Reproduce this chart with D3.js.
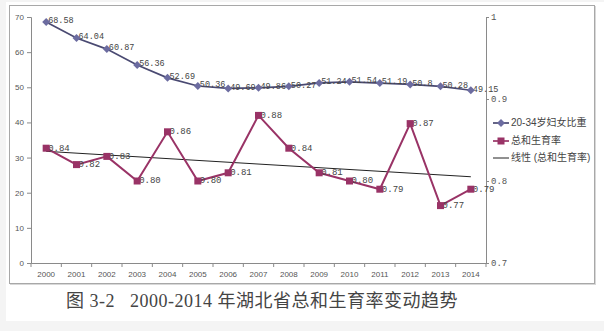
<!DOCTYPE html>
<html><head><meta charset="utf-8">
<script src="https://cdn.jsdelivr.net/npm/d3@7"></script>
<style>html,body{margin:0;padding:0;background:#fff;}svg{display:block;}</style>
</head><body>
<script>
const years = ["2000","2001","2002","2003","2004","2005","2006","2007","2008","2009","2010","2011","2012","2013","2014"];
const womenShare = [68.58,64.04,60.87,56.36,52.69,50.36,49.69,49.86,50.27,51.24,51.54,51.19,50.8,50.28,49.15];
const tfr = [0.84,0.82,0.83,0.80,0.86,0.80,0.81,0.88,0.84,0.81,0.80,0.79,0.87,0.77,0.79];
const tfrLabels = ["0.84","0.82","0.83","0.80","0.86","0.80","0.81","0.88","0.84","0.81","0.80","0.79","0.87","0.77","0.79"];
const leftTicks = [0,10,20,30,40,50,60,70];
const rightTicks = [0.7,0.8,0.9,1];
const rightTickLabels = ["0.7","0.8","0.9","1"];
const seriesNames = ["20-34岁妇女比重","总和生育率","线性 (总和生育率)"];
const title = "图 3-2\u00a0\u00a0\u00a02000-2014 年湖北省总和生育率变动趋势";

const W = 604, H = 331;
const svg = d3.select("body").append("svg").attr("width", W).attr("height", H);
svg.append("rect").attr("width", W).attr("height", H).attr("fill", "#f4f4f4");
svg.append("rect").attr("x", 6).attr("y", 2).attr("width", W - 6).attr("height", 319).attr("fill", "#fff");
// frame
svg.append("rect").attr("x", 10.5).attr("y", 6.5).attr("width", 585).attr("height", 278).attr("fill", "none").attr("stroke", "#d8d8d8");
svg.append("rect").attr("x", 9.5).attr("y", 5.5).attr("width", 585).attr("height", 278).attr("fill", "#fff").attr("stroke", "#a8a8a8");

const x = d3.scaleBand().domain(years).range([31, 486]);
const cx = d => x(d) + x.bandwidth() / 2;
const yL = d3.scaleLinear().domain([0, 70]).range([263, 17]);
const yR = d3.scaleLinear().domain([0.7, 1.0]).range([263, 17]);

const axisColor = "#8a8a8a";
const tickFont = "'Liberation Sans', Arial, sans-serif";

const gL = svg.append("g").attr("transform", "translate(31,0)")
  .call(d3.axisLeft(yL).tickValues(leftTicks).tickSize(4).tickPadding(3));
const gR = svg.append("g").attr("transform", "translate(486,0)")
  .call(d3.axisRight(yR).tickValues(rightTicks).tickSize(3).tickPadding(2)
    .tickFormat((d, i) => rightTickLabels[i]));
const gB = svg.append("g").attr("transform", "translate(0,263)")
  .call(d3.axisBottom(x).tickSize(0).tickPadding(8));
[gL, gR, gB].forEach(g => {
  g.select(".domain").attr("stroke", axisColor);
  g.selectAll(".tick line").attr("stroke", axisColor);
  g.selectAll("text").attr("fill", "#555").style("font-family", tickFont).style("font-size", "8px");
});
gR.selectAll("text").style("font-family", "'Liberation Mono', monospace").style("font-size", "9px");
const bounds = years.map(d => x(d)).concat([x.range()[1]]);
svg.append("g").selectAll("line").data(bounds).join("line")
  .attr("x1", d => d).attr("x2", d => d).attr("y1", 263).attr("y2", 267)
  .attr("stroke", axisColor);

// trend line (least squares fit of TFR)
const n = tfr.length;
const mx = d3.mean(tfr, (d, i) => i), my = d3.mean(tfr);
const slope = d3.sum(tfr, (d, i) => (i - mx) * (d - my)) / d3.sum(tfr, (d, i) => (i - mx) ** 2);
const fit = i => my + slope * (i - mx);
svg.append("line")
  .attr("x1", cx(years[0])).attr("y1", yR(fit(0)))
  .attr("x2", cx(years[n - 1])).attr("y2", yR(fit(n - 1)))
  .attr("stroke", "#222").attr("stroke-width", 1);

const c1 = "#4a4a72", m1 = "#6c6ca0";
svg.append("path").datum(womenShare)
  .attr("d", d3.line().x((d, i) => cx(years[i])).y(d => yL(d)))
  .attr("fill", "none").attr("stroke", c1).attr("stroke-width", 1.7);
const c2 = "#993366";
svg.append("path").datum(tfr)
  .attr("d", d3.line().x((d, i) => cx(years[i])).y(d => yR(d)))
  .attr("fill", "none").attr("stroke", c2).attr("stroke-width", 2);

const labFont = "'Liberation Mono', 'DejaVu Sans Mono', monospace";
svg.append("g").selectAll("text").data(womenShare).join("text")
  .attr("x", (d, i) => cx(years[i]) + 2).attr("y", d => yL(d) - 1)
  .attr("dominant-baseline", "middle")
  .style("font-family", labFont).style("font-size", "8.5px").attr("fill", "#444")
  .text(d => String(d));
svg.append("g").selectAll("text").data(tfr).join("text")
  .attr("x", (d, i) => cx(years[i]) + 2).attr("y", d => yR(d))
  .attr("dominant-baseline", "middle")
  .style("font-family", labFont).style("font-size", "9px").attr("fill", "#444")
  .text((d, i) => tfrLabels[i]);

// markers
const dm = 4;
const diamondPath = `M0,${-dm}L${dm},0L0,${dm}L${-dm},0Z`;
svg.append("g").selectAll("path").data(womenShare).join("path")
  .attr("transform", (d, i) => `translate(${cx(years[i])},${yL(d)})`)
  .attr("d", diamondPath).attr("fill", m1);
const sq = 7;
svg.append("g").selectAll("rect").data(tfr).join("rect")
  .attr("x", (d, i) => cx(years[i]) - sq / 2).attr("y", d => yR(d) - sq / 2)
  .attr("width", sq).attr("height", sq).attr("fill", c2);

// legend
const lg = svg.append("g").attr("transform", "translate(493,0)");
const rows = [123, 141, 158];
rows.forEach((ry, i) => {
  const col = i === 0 ? c1 : (i === 1 ? c2 : "#222");
  lg.append("line").attr("x1", 0).attr("x2", 16).attr("y1", ry).attr("y2", ry)
    .attr("stroke", col).attr("stroke-width", i === 2 ? 1 : 1.7);
  if (i === 0) lg.append("path").attr("transform", `translate(8,${ry})`).attr("d", diamondPath).attr("fill", m1);
  if (i === 1) lg.append("rect").attr("x", 4.5).attr("y", ry - 3.5).attr("width", 7).attr("height", 7).attr("fill", c2);
  lg.append("text").attr("x", 18).attr("y", ry).attr("dominant-baseline", "middle")
    .style("font-family", "'Liberation Sans', 'Noto Sans CJK SC', sans-serif").style("font-size", "10px")
    .attr("fill", "#444").text(seriesNames[i]);
});

// title
svg.append("text").attr("x", 262).attr("y", 303).attr("text-anchor", "middle")
  .attr("dominant-baseline", "middle")
  .style("font-family", "'Liberation Serif', 'Noto Sans CJK SC', serif").style("font-size", "18px")
  .style("letter-spacing", "0.5px")
  .style("white-space", "pre").attr("fill", "#444").text(title);
</script>
</body></html>
